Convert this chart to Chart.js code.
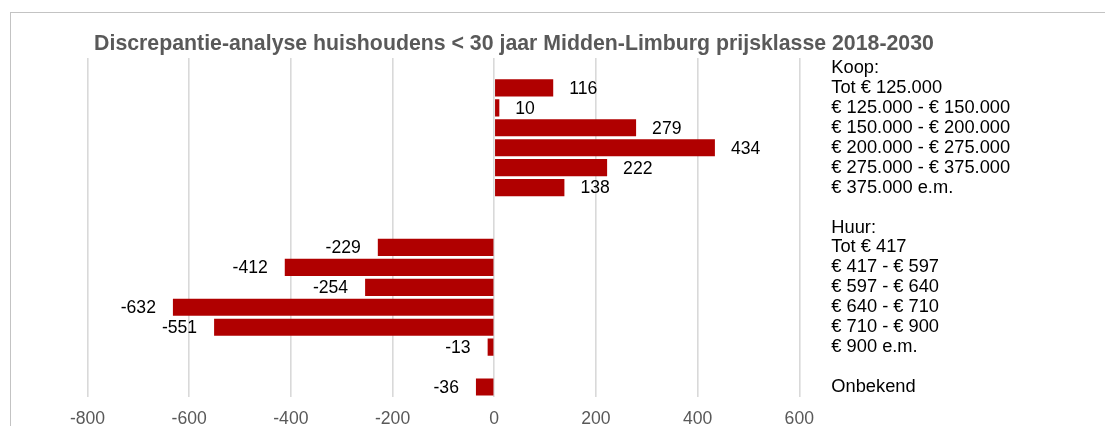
<!DOCTYPE html>
<html lang="nl">
<head>
<meta charset="utf-8">
<title>Discrepantie-analyse huishoudens &lt; 30 jaar</title>
<script src="https://cdn.jsdelivr.net/npm/chart.js@4/dist/chart.umd.min.js"></script>
<style>
  html, body { margin: 0; padding: 0; background: #fff; overflow: hidden; }
  body { width: 1105px; height: 426px; position: relative; }
  #frame {
    position: absolute; left: 10px; top: 12px;
    width: 1200px; height: 500px;
    border: 1px solid #c3c3c3; box-sizing: border-box;
  }
  #title {
    position: absolute; left: 0; top: 31px; width: 1028px;
    text-align: center; white-space: nowrap;
    font: bold 21.3px "Liberation Sans", Arial, sans-serif;
    line-height: 24px; color: #595959;
  }
  #chart { position: absolute; left: 0; top: 0; }
</style>
</head>
<body>
<div id="frame"></div>
<canvas id="chart" width="1105" height="426"></canvas>
<div id="title">Discrepantie-analyse huishoudens &lt; 30 jaar Midden-Limburg prijsklasse 2018-2030</div>
<script>
// Price classes (koop and huur) with section headers and spacer rows
const categories = [
  'Koop:',
  'Tot € 125.000',
  '€ 125.000 - € 150.000',
  '€ 150.000 - € 200.000',
  '€ 200.000 - € 275.000',
  '€ 275.000 - € 375.000',
  '€ 375.000 e.m.',
  '',
  'Huur:',
  'Tot € 417',
  '€ 417 - € 597',
  '€ 597 - € 640',
  '€ 640 - € 710',
  '€ 710 - € 900',
  '€ 900 e.m.',
  ' ',
  'Onbekend'
];

// Discrepancy in number of households per class (null = header / spacer row)
const discrepancy = [
  null, 116, 10, 279, 434, 222, 138,
  null,
  null, -229, -412, -254, -632, -551, -13,
  null,
  -36
];

// Value axis range and tick step
const axisMin = -800;
const axisMax = 600;
const axisStep = 200;

const FONT = '"Liberation Sans", Arial, sans-serif';

// Writes each bar's value just beyond its end
const valueLabels = {
  id: 'valueLabels',
  afterDatasetsDraw(chart) {
    const ctx = chart.ctx;
    const meta = chart.getDatasetMeta(0);
    const data = chart.data.datasets[0].data;
    ctx.save();
    ctx.font = '17.6px ' + FONT;
    ctx.fillStyle = '#000000';
    ctx.textBaseline = 'middle';
    meta.data.forEach((bar, i) => {
      const v = data[i];
      if (v === null || v === undefined) return;
      if (v >= 0) {
        ctx.textAlign = 'left';
        ctx.fillText(String(v), bar.x + 16, bar.y + 1);
      } else {
        ctx.textAlign = 'right';
        ctx.fillText(String(v), bar.x - 17, bar.y + 1);
      }
    });
    ctx.restore();
  }
};

new Chart(document.getElementById('chart'), {
  type: 'bar',
  data: {
    labels: categories,
    datasets: [{
      data: discrepancy,
      backgroundColor: '#b00000',
      borderWidth: 0,
      categoryPercentage: 1,
      barPercentage: 0.86
    }]
  },
  options: {
    indexAxis: 'y',
    responsive: false,
    animation: false,
    devicePixelRatio: 1,
    layout: { padding: { top: 58, left: 87.5, right: 0, bottom: 0 } },
    plugins: {
      legend: { display: false },
      title: { display: false },
      tooltip: { enabled: false }
    },
    scales: {
      x: {
        type: 'linear',
        min: axisMin,
        max: axisMax,
        position: 'bottom',
        afterFit(scale) {
          scale.height = 29;
          scale.paddingLeft = 0;
          scale.paddingRight = 0;
        },
        border: { display: false },
        grid: { color: '#d9d9d9', lineWidth: 1.6, drawTicks: false },
        ticks: {
          stepSize: axisStep,
          color: '#595959',
          font: { family: FONT, size: 17.6 },
          padding: 12,
          maxRotation: 0
        }
      },
      y: {
        position: 'right',
        afterFit(scale) {
          scale.width = 305.7;
          scale.paddingTop = 0;
          scale.paddingBottom = 0;
        },
        border: { display: false },
        grid: { display: false, drawTicks: false },
        ticks: {
          color: '#000000',
          font: { family: FONT, size: 18.3 },
          padding: 32,
          autoSkip: false
        }
      }
    }
  },
  plugins: [valueLabels]
});
</script>
</body>
</html>
